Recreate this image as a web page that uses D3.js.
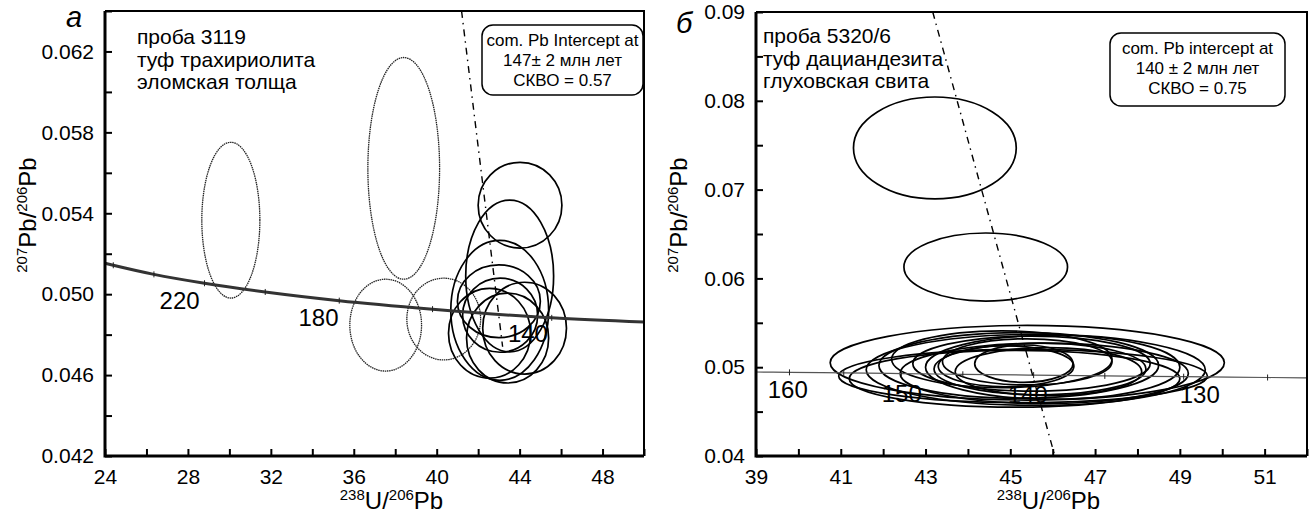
<!DOCTYPE html>
<html>
<head>
<meta charset="utf-8">
<script src="https://cdn.jsdelivr.net/npm/d3@7"></script>
<style>
  body { margin: 0; background: #fff; }
  svg text { font-family: "Liberation Sans", Arial, sans-serif; fill: #000; }
</style>
</head>
<body>
<svg id="chart" width="1312" height="520"></svg>
<script>
(function(){

	// ---- panel a: sample 3119 ----
	// concordia (age in Ma, 238U/206Pb, 207Pb/206Pb)
	const concordiaA = [
		{age: null, x: 24.0, y: 0.05153},
		{age: 260, x: 24.4, y: 0.05143},
		{age: 240, x: 26.36, y: 0.05098},
		{age: 220, x: 28.8, y: 0.05054},
		{age: 200, x: 31.73, y: 0.05011},
		{age: 180, x: 35.3, y: 0.04968},
		{age: 160, x: 39.8, y: 0.04926},
		{age: 140, x: 45.55, y: 0.04883},
		{age: null, x: 50.0, y: 0.04862}
	];
	const ageLabelsA = [
		{text: "220", x: 27.6, y: 0.0497},
		{text: "180", x: 34.3, y: 0.04886},
		{text: "140", x: 44.4, y: 0.04807}
	];
	// excluded analyses (dotted)
	const dottedA = [
		{x: 30.07, y: 0.05366, rx: 1.40, ry: 0.00385},
		{x: 38.41, y: 0.05622, rx: 1.73, ry: 0.00548},
		{x: 37.54, y: 0.04847, rx: 1.73, ry: 0.00227},
		{x: 40.34, y: 0.04877, rx: 1.78, ry: 0.00202}
	];
	const solidA = [
		{x: 44.02, y: 0.0544, rx: 2.02, ry: 0.00212},
		{x: 43.52, y: 0.0509, rx: 2.12, ry: 0.00375},
		{x: 43.04, y: 0.0492, rx: 2.36, ry: 0.00346},
		{x: 43.0, y: 0.04965, rx: 2.0, ry: 0.0018},
		{x: 43.06, y: 0.04896, rx: 1.81, ry: 0.00183},
		{x: 44.24, y: 0.04832, rx: 2.02, ry: 0.00227},
		{x: 42.55, y: 0.04807, rx: 1.98, ry: 0.00222},
		{x: 43.42, y: 0.04783, rx: 1.98, ry: 0.00222}
	];
	const discordiaA = [{x: 41.2, y: 0.064}, {x: 43.18, y: 0.0474}];
	const textA = ["проба 3119", "туф трахириолита", "эломская толща"];
	const boxA = ["com. Pb Intercept at", "147± 2 млн лет", "СКВО = 0.57"];
	const xTicksA = d3.range(24, 50.1, 2);
	const yTicksA = d3.range(0.042, 0.0641, 0.002);

	// ---- panel б: sample 5320/6 ----
	const concordiaB = [
		{age: null, x: 39.0, y: 0.04946},
		{age: 160, x: 39.79, y: 0.04942},
		{age: 155, x: 41.07, y: 0.04935},
		{age: 150, x: 42.43, y: 0.04928},
		{age: 145, x: 43.88, y: 0.04920},
		{age: 140, x: 45.55, y: 0.04911},
		{age: 135, x: 47.23, y: 0.04902},
		{age: 130, x: 49.09, y: 0.04893},
		{age: 125, x: 51.07, y: 0.04884},
		{age: null, x: 52.0, y: 0.0488}
	];
	const ageLabelsB = [
		{text: "160", x: 39.75, y: 0.04755},
		{text: "150", x: 42.44, y: 0.0471},
		{text: "140", x: 45.41, y: 0.0469},
		{text: "130", x: 49.47, y: 0.0469}
	];
	const solidB = [
		{x: 43.22, y: 0.07469, rx: 1.92, ry: 0.00574},
		{x: 44.42, y: 0.06128, rx: 1.93, ry: 0.00383},
		{x: 45.4, y: 0.0505, rx: 4.65, ry: 0.0042},
		{x: 45.3, y: 0.0490, rx: 4.35, ry: 0.0030},
		{x: 45.6, y: 0.0497, rx: 4.0, ry: 0.0040},
		{x: 45.2, y: 0.0502, rx: 3.3, ry: 0.0037},
		{x: 45.8, y: 0.0493, rx: 3.4, ry: 0.0034},
		{x: 45.5, y: 0.0504, rx: 2.8, ry: 0.0031},
		{x: 45.7, y: 0.0498, rx: 2.5, ry: 0.0029},
		{x: 45.4, y: 0.0506, rx: 2.0, ry: 0.0026},
		{x: 45.9, y: 0.0495, rx: 2.2, ry: 0.0027},
		{x: 45.32, y: 0.0504, rx: 1.16, ry: 0.0021},
		{x: 44.9, y: 0.0501, rx: 1.6, ry: 0.0023},
		{x: 46.0, y: 0.0500, rx: 3.0, ry: 0.0036},
		{x: 44.8, y: 0.0509, rx: 2.6, ry: 0.0032},
		{x: 45.1, y: 0.0487, rx: 3.9, ry: 0.0032}
	];
	const discordiaB = [{x: 43.17, y: 0.09}, {x: 46.05, y: 0.04}];
	const textB = ["проба 5320/6", "туф дациандезита", "глуховская свита"];
	const boxB = ["com. Pb intercept at", "140 ± 2 млн лет", "СКВО = 0.75"];
	const xTicksB = d3.range(39, 52.1, 1);
	const yTicksB = d3.range(0.04, 0.0901, 0.005);

	const svg = d3.select("#chart");

	function drawPanel(opt) {
		const x = d3.scaleLinear().domain(opt.xDomain).range(opt.xRange);
		const y = d3.scaleLinear().domain(opt.yDomain).range(opt.yRange);
		const g = svg.append("g");

		// ellipses first so the frame sits on top
		g.selectAll("ellipse.dot").data(opt.dotted || []).enter().append("ellipse")
			.attr("cx", d => x(d.x)).attr("cy", d => y(d.y))
			.attr("rx", d => x(d.x + d.rx) - x(d.x))
			.attr("ry", d => y(d.y) - y(d.y + d.ry))
			.attr("fill", "none").attr("stroke", "#222")
			.attr("stroke-width", 1.3).attr("stroke-dasharray", "1.5,0.7");

		g.selectAll("ellipse.sol").data(opt.solid).enter().append("ellipse")
			.attr("cx", d => x(d.x)).attr("cy", d => y(d.y))
			.attr("rx", d => x(d.x + d.rx) - x(d.x))
			.attr("ry", d => y(d.y) - y(d.y + d.ry))
			.attr("fill", "none").attr("stroke", "#000")
			.attr("stroke-width", 1.7);

		// concordia
		const line = d3.line().x(d => x(d.x)).y(d => y(d.y)).curve(d3.curveMonotoneX);
		g.append("path").datum(opt.concordia)
			.attr("d", line).attr("fill", "none")
			.attr("stroke", opt.concWidth > 2 ? "#333" : "#555")
			.attr("stroke-width", opt.concWidth);
		g.selectAll("line.ctick").data(opt.concordia.filter(d => d.age != null)).enter().append("line")
			.attr("x1", d => x(d.x)).attr("x2", d => x(d.x))
			.attr("y1", d => y(d.y) - 3).attr("y2", d => y(d.y) + 3)
			.attr("stroke", "#222").attr("stroke-width", 1);

		g.selectAll("text.age").data(opt.ageLabels).enter().append("text")
			.attr("x", d => x(d.x)).attr("y", d => y(d.y))
			.attr("dy", "0.36em").attr("text-anchor", "middle")
			.attr("font-size", 24).text(d => d.text);

		// dash-dot intercept line
		g.append("line")
			.attr("x1", x(opt.discordia[0].x)).attr("y1", y(opt.discordia[0].y))
			.attr("x2", x(opt.discordia[1].x)).attr("y2", y(opt.discordia[1].y))
			.attr("stroke", "#000").attr("stroke-width", 1.4)
			.attr("stroke-dasharray", "7,5,1.5,5");

		// axes with inward ticks
		const xAxis = d3.axisBottom(x).tickValues(opt.xTicks)
			.tickSizeInner(-7).tickSizeOuter(0).tickPadding(13)
			.tickFormat((d, i) => (i % 2 == 0 ? d3.format("d")(d) : ""));
		const yAxis = d3.axisLeft(y).tickValues(opt.yTicks)
			.tickSizeInner(-7).tickSizeOuter(0).tickPadding(11)
			.tickFormat((d, i) => (i % 2 == 0 ? d3.format(opt.yFmt)(d) : ""));

		const gx = g.append("g").attr("transform", `translate(0,${opt.yRange[0]})`).call(xAxis);
		const gy = g.append("g").attr("transform", `translate(${opt.xRange[0]},0)`).call(yAxis);
		[gx, gy].forEach(a => {
			a.select(".domain").remove();
			a.selectAll(".tick line").attr("stroke", "#000").attr("stroke-width", 2);
			a.selectAll("text").attr("font-size", 21).attr("font-family", null).attr("fill", "#000");
		});

		// frame: heavy left/bottom, lighter top/right
		const x0 = opt.xRange[0], x1 = opt.xRange[1], y0 = opt.yRange[1], y1 = opt.yRange[0];
		g.append("path").attr("d", `M${x0},${y0}H${x1}V${y1}`)
			.attr("fill", "none").attr("stroke", "#000").attr("stroke-width", 2);
		g.append("path").attr("d", `M${x0},${y0}V${y1}H${x1}`)
			.attr("fill", "none").attr("stroke", "#000").attr("stroke-width", 3);

		// axis titles
		const xt = g.append("text").attr("x", (x0 + x1) / 2 + 17).attr("y", 509)
			.attr("text-anchor", "middle").attr("font-size", 24);
		xt.append("tspan").attr("font-size", 15).attr("dy", -9).text("238");
		xt.append("tspan").attr("dy", 9).text("U/");
		xt.append("tspan").attr("font-size", 15).attr("dy", -9).text("206");
		xt.append("tspan").attr("dy", 9).text("Pb");

		const yt = g.append("text").attr("transform", `translate(${opt.yTitleX},215) rotate(-90)`)
			.attr("text-anchor", "middle").attr("font-size", 24);
		yt.append("tspan").attr("font-size", 15).attr("dy", -9).text("207");
		yt.append("tspan").attr("dy", 9).text("Pb/");
		yt.append("tspan").attr("font-size", 15).attr("dy", -9).text("206");
		yt.append("tspan").attr("dy", 9).text("Pb");

		// panel letter
		g.append("text").attr("x", opt.letterX).attr("y", opt.letterY)
			.attr("font-size", 29).attr("font-style", "italic").text(opt.letter);

		// sample description
		g.selectAll("text.desc").data(opt.desc).enter().append("text")
			.attr("x", opt.descX).attr("y", (d, i) => opt.descY + i * 22.5)
			.attr("font-size", 21).text(d => d);

		// rounded box with intercept result
		const b = opt.box;
		g.append("rect").attr("x", b.x).attr("y", b.y).attr("width", b.w).attr("height", b.h)
			.attr("rx", 11).attr("fill", "#fff").attr("stroke", "#000").attr("stroke-width", 1.5);
		g.selectAll("text.box").data(opt.boxText).enter().append("text")
			.attr("x", b.x + b.w / 2).attr("y", (d, i) => b.ty + i * 20)
			.attr("text-anchor", "middle").attr("font-size", 17).text(d => d);
	}

	drawPanel({
		xDomain: [24, 50], xRange: [105, 644],
		yDomain: [0.042, 0.064], yRange: [456, 11],
		xTicks: xTicksA, yTicks: yTicksA, yFmt: ".3f",
		concordia: concordiaA, concWidth: 3, ageLabels: ageLabelsA,
		dotted: dottedA, solid: solidA, discordia: discordiaA,
		desc: textA, descX: 137, descY: 44,
		box: {x: 482, y: 25, w: 161, h: 70, ty: 46}, boxText: boxA,
		letter: "а", letterX: 66, letterY: 27, yTitleX: 36
	});

	drawPanel({
		xDomain: [39, 52], xRange: [756, 1307],
		yDomain: [0.04, 0.09], yRange: [456, 12],
		xTicks: xTicksB, yTicks: yTicksB, yFmt: ".2f",
		concordia: concordiaB, concWidth: 1.2, ageLabels: ageLabelsB,
		dotted: [], solid: solidB, discordia: discordiaB,
		desc: textB, descX: 763, descY: 43,
		box: {x: 1110, y: 33, w: 175, h: 73, ty: 54}, boxText: boxB,
		letter: "б", letterX: 676, letterY: 33, yTitleX: 687
	});

}());
</script>
</body>
</html>
